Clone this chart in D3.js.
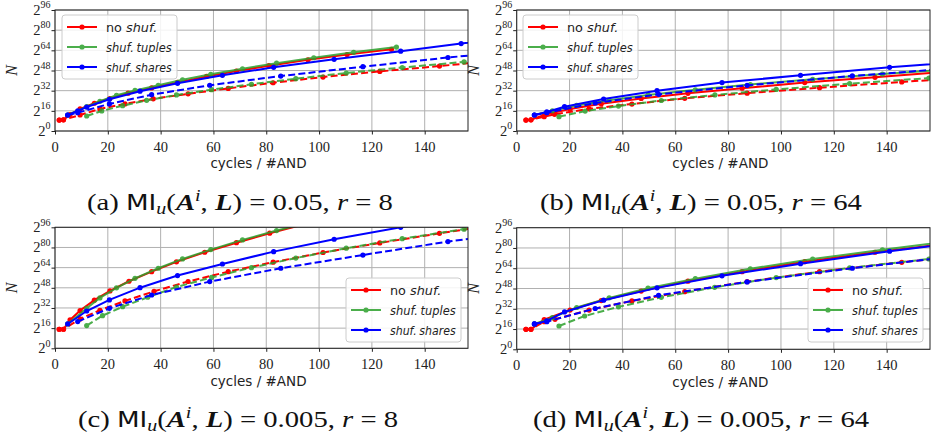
<!DOCTYPE html>
<html><head><meta charset="utf-8">
<script src="https://cdn.jsdelivr.net/npm/d3@7"></script>
<style>body{margin:0;background:#fff} svg{display:block}</style>
</head><body>
<svg id="chart" width="931" height="438"></svg>
<script>
// ---------- DATA (x = cycles / #AND, y = log2 N) ----------
const xTicks = [0, 20, 40, 60, 80, 100, 120, 140];
const yTickExps = [0, 16, 32, 48, 64, 80, 96];
const seriesNames = ["no shuf.", "shuf. tuples", "shuf. shares"];
const captionLetters = ["a", "b", "c", "d"];
const captionMI = ["0.05", "0.05", "0.005", "0.005"];
const captionR = ["8", "64", "8", "64"];

// panel (a)
const a_noShuf   = [[1.6,8.7],[3.2,8.9],[5.7,13],[9.5,17.5],[14.9,22],[20.8,25.8],[27.7,30],[36.6,34.2],[46.4,38.5],[57.4,43.3],[68.7,47.5],[81,51.8],[95.8,56.5],[110.6,60.6],[127.4,64.8]];
const a_noShuf_d = [[1.6,8.7],[3.2,8.9],[9.5,12.7],[17,17.5],[26.5,21.5],[37.2,25.5],[50.4,29.5],[65.6,33.8],[82.6,38.3],[101.5,42.8],[123,47.3],[145.6,51.5],[170,56.5]];
const a_tuples   = [[4.8,12.7],[12,19.3],[17,23.6],[23.3,28.3],[30.3,32.2],[39.1,36.3],[48.3,40.6],[59,45],[71,49.4],[83.9,53.8],[98,58.1],[113.1,62.4],[129.3,66.6]];
const a_tuples_d = [[12,11.9],[17.7,15.9],[25.6,20.1],[34.7,24.3],[46,28.6],[59.3,32.8],[74.4,37.1],[91.2,41.5],[110.3,46],[131.5,50.4],[154.9,54.8],[175,58.5]];
const a_shares   = [[4.8,12.7],[8.6,15.9],[12,19],[20.6,25.2],[32.2,31.6],[46.4,37.8],[63.4,44.2],[82.8,50.5],[105.7,56.9],[130.9,63.3],[153.8,69.4],[175,74.5]];
const a_shares_d = [[4.8,12.7],[8.6,14.5],[20.6,21.5],[36.6,28.8],[58.6,36.3],[85.5,43.6],[116.6,51],[148.8,58.3],[175,63.5]];

// panel (b)
const b_noShuf   = [[3.5,8.7],[5.4,8.9],[10.4,12.8],[20.2,17.5],[32,21.6],[47.1,25.8],[64.8,29.9],[85.3,34],[109,38.4],[135.6,42.6],[165,47.5]];
const b_noShuf_d = [[3.5,8.7],[5.4,8.9],[10.4,11.4],[14.3,13.2],[27.4,17.6],[43.6,21.4],[63.6,25.9],[87.2,30],[114.6,34.4],[145.7,38.9],[175,43]];
const b_tuples   = [[6.7,12.7],[13.5,16],[22.7,20.3],[35,24.4],[49.7,28.6],[67.6,32.7],[88.4,36.9],[112,41],[138.4,45.2],[165,49]];
const b_tuples_d = [[16,11.4],[25.9,15.8],[38.5,19.8],[54.7,24.2],[75,28.6],[98.2,33],[126,37.6],[156,42],[175,44.6]];
const b_shares   = [[6.7,12.7],[11.4,15.1],[18.1,19.3],[32.9,25.4],[53.1,32],[77.7,38.4],[107.4,44.2],[141.1,50.5],[175,56]];
const b_shares_d = [[6.7,12.7],[11.4,14.5],[29.7,22.2],[53.7,29.1],[87.2,36.2],[127,43.7],[170,50.5]];

// panel (c)
const c_noShuf   = [[1.6,15.1],[3.2,15.1],[5.7,22.5],[9.5,30],[14.9,38.2],[20.8,45.5],[28,53.2],[36.6,60.8],[46,68.6],[56.7,76.2],[68.7,83.8],[81.3,91.3],[95.5,99]];
const c_noShuf_d = [[1.6,15.1],[3.2,15.1],[9.5,23.3],[17,30.2],[26.5,37.6],[37.5,45.2],[50.4,53],[65.6,60.8],[82.6,68.3],[101.5,76],[123,83.6],[145.6,91.2],[170,99]];
const c_tuples   = [[4.8,19.3],[12,31.7],[17,40],[23.3,48],[30.3,55.5],[39.1,63.5],[48.3,70.9],[59,78.3],[71,86],[83.9,93.4],[98,100.5]];
const c_tuples_d = [[12,18],[18,25.9],[25.6,33],[35.1,40.5],[46,48.6],[59.3,56.2],[74.4,64],[91.2,71.6],[110.3,79.4],[131.5,87],[154.9,94.5],[175,100]];
const c_shares   = [[4.8,19.3],[12,29.6],[20.6,38.4],[32.2,48.1],[46.4,57.7],[63.4,66.9],[82.8,76.7],[105.7,86.5],[130.9,96],[153.8,104]];
const c_shares_d = [[8.6,21.2],[20.6,31.7],[36.6,42.3],[58.6,52.9],[85.5,63.5],[116.6,74],[148.8,84.7],[175,91.5]];

// panel (d)
const d_noShuf   = [[3.5,15.8],[5.4,15.8],[10.4,23.5],[20.2,31],[32,38.5],[47.1,46],[64.8,53.8],[85.3,61.3],[109,69.2],[135.6,76.6],[165,84]];
const d_noShuf_d = [[3.5,15.8],[5.4,15.8],[10.4,21.8],[14.5,23.7],[27.4,31],[43.6,38.2],[63.6,45.5],[87.2,53.4],[114.6,61.3],[145.7,68.7],[175,75]];
const d_tuples   = [[6.7,20],[13.5,25],[22.7,33],[35,40.6],[49.7,48.3],[67.6,55.8],[88.4,63.6],[112,71.2],[138.4,78.6],[165,85.5]];
const d_tuples_d = [[16,18.4],[25.7,26.3],[38.5,33.5],[54.7,41],[74.9,48.9],[98.2,56.6],[126,64.3],[156,71.3],[175,75.5]];
const d_shares   = [[6.7,20],[11.4,22.4],[18.1,29.5],[32.9,38.8],[53.1,48.5],[77.7,58],[107.4,67.6],[141.1,77.4],[175,86]];
const d_shares_d = [[6.7,20],[11.4,21.8],[29.7,32.2],[53.7,42.6],[87.2,53.2],[127,64],[170,74.5]];

// ---------- LAYOUT / STYLE ----------
const colors = ["#ff0000", "#2ca02c", "#0000ff"];
const opac = [1, 0.85, 1];
const panels = [
  {box:{l:55,   r:468, t:10,    b:131},   leg:{x:62,  y:15},  series:[[a_noShuf,a_noShuf_d],[a_tuples,a_tuples_d],[a_shares,a_shares_d]], cap:{x:240, y:210}, xl:{y:151.5}, axl:{y:168}},
  {box:{l:516.7,r:930, t:10,    b:131},   leg:{x:523, y:15},  series:[[b_noShuf,b_noShuf_d],[b_tuples,b_tuples_d],[b_shares,b_shares_d]], cap:{x:701, y:210}, xl:{y:151.5}, axl:{y:168}},
  {box:{l:55,   r:468, t:227.3, b:348.3}, leg:{x:346, y:278}, series:[[c_noShuf,c_noShuf_d],[c_tuples,c_tuples_d],[c_shares,c_shares_d]], cap:{x:238, y:427}, xl:{y:368.5}, axl:{y:385.5}},
  {box:{l:516.7,r:930, t:227.7, b:349.3}, leg:{x:808, y:278}, series:[[d_noShuf,d_noShuf_d],[d_tuples,d_tuples_d],[d_shares,d_shares_d]], cap:{x:701, y:427}, xl:{y:369.5}, axl:{y:386.5}}
];

const svg = d3.select("#chart");
const serif = "'Liberation Serif','DejaVu Serif',serif";
const sans = "'DejaVu Sans','Noto Sans',sans-serif";
const captions = [];

panels.forEach((p, pi) => {
  const B = p.box;
  const x = d3.scaleLinear().domain([0, 156.4]).range([B.l, B.r]);
  const y = d3.scaleLinear().domain([0, 96]).range([B.b, B.t]);
  const g = svg.append("g");

  // grid
  g.selectAll(".gx").data(xTicks).enter().append("line")
    .attr("x1", d => x(d)).attr("x2", d => x(d)).attr("y1", B.t).attr("y2", B.b)
    .attr("stroke", "#b0b0b0").attr("stroke-width", 1);
  g.selectAll(".gy").data(yTickExps).enter().append("line")
    .attr("x1", B.l).attr("x2", B.r).attr("y1", d => y(d)).attr("y2", d => y(d))
    .attr("stroke", "#b0b0b0").attr("stroke-width", 1);

  // axes (ticks)
  const xa = g.append("g").attr("transform", `translate(0,${B.b})`)
    .call(d3.axisBottom(x).tickValues(xTicks).tickSize(3.5).tickFormat(""));
  const ya = g.append("g").attr("transform", `translate(${B.l},0)`)
    .call(d3.axisLeft(y).tickValues(yTickExps).tickSize(3.5).tickFormat(""));
  [xa, ya].forEach(a => { a.select(".domain").remove(); a.selectAll("line").attr("stroke", "#222").attr("stroke-width", 1); });

  // x tick labels
  g.selectAll(".xl").data(xTicks).enter().append("text")
    .attr("x", d => x(d)).attr("y", p.xl.y).attr("text-anchor", "middle")
    .attr("font-family", serif).attr("font-size", 14.5).attr("fill", "#222")
    .text(d => d);
  // y tick labels 2^k
  yTickExps.forEach(k => {
    const t = g.append("text").attr("x", B.l - 4.5).attr("y", y(k) + 4.8)
      .attr("text-anchor", "end").attr("font-family", serif).attr("fill", "#222");
    t.append("tspan").attr("font-size", 14.5).text("2");
    t.append("tspan").attr("font-size", 10).attr("dy", -6.5).text(k);
  });

  // axis titles
  g.append("text").attr("x", (B.l + B.r) / 2 - 3).attr("y", p.axl.y).attr("text-anchor", "middle")
    .attr("font-family", sans).attr("font-size", 13.5).attr("fill", "#222").text("cycles / #AND");
  g.append("text").attr("transform", `translate(${B.l - 38},${(B.t + B.b) / 2}) rotate(-90)`)
    .attr("text-anchor", "middle").attr("font-family", serif).attr("font-style", "italic")
    .attr("font-size", 16).attr("fill", "#222").text("N");

  // clip
  const cid = "clip" + pi;
  svg.append("clipPath").attr("id", cid).append("rect")
    .attr("x", B.l).attr("y", B.t).attr("width", B.r - B.l).attr("height", B.b - B.t);
  const plot = g.append("g").attr("clip-path", `url(#${cid})`);
  const line = d3.line().x(d => x(d[0])).y(d => y(d[1]));

  p.series.forEach((pair, si) => {
    pair.forEach((data, di) => {
      const sg = plot.append("g").attr("opacity", opac[si]);
      sg.append("path").datum(data).attr("d", line).attr("fill", "none")
        .attr("stroke", colors[si]).attr("stroke-width", 2)
        .attr("stroke-dasharray", di === 1 ? "7,3.2" : null);
      sg.selectAll("circle").data(data).enter().append("circle")
        .attr("cx", d => x(d[0])).attr("cy", d => y(d[1])).attr("r", 2.6)
        .attr("fill", colors[si]);
    });
  });

  // frame
  g.append("rect").attr("x", B.l).attr("y", B.t).attr("width", B.r - B.l).attr("height", B.b - B.t)
    .attr("fill", "none").attr("stroke", "#222").attr("stroke-width", 1);

  // legend
  const L = g.append("g").attr("transform", `translate(${p.leg.x},${p.leg.y})`);
  L.append("rect").attr("width", 115).attr("height", 64).attr("rx", 3)
    .attr("fill", "#fff").attr("fill-opacity", 0.85).attr("stroke", "#cccccc");
  seriesNames.forEach((nm, i) => {
    const yy = 12 + i * 20;
    const lg = L.append("g").attr("opacity", opac[i]);
    lg.append("line").attr("x1", 5).attr("x2", 35).attr("y1", yy).attr("y2", yy)
      .attr("stroke", colors[i]).attr("stroke-width", 2);
    lg.append("circle").attr("cx", 20).attr("cy", yy).attr("r", 2.6).attr("fill", colors[i]);
    const t = L.append("text").attr("x", 44).attr("y", yy + 4.6)
      .attr("font-family", sans).attr("font-size", 12.8).attr("fill", "#222");
    if (i === 0) {
      t.append("tspan").text("no ");
      t.append("tspan").attr("font-style", "italic").text("shuf.");
    } else {
      const parts = nm.split(" ");
      t.append("tspan").attr("font-style", "italic").text(parts[0]);
      t.append("tspan").attr("font-style", "italic").attr("dx", 3).text(parts[1]);
    }
    // keep the entry inside the legend frame
    const w = t.node().getBBox().width;
    if (w > 66) t.attr("transform", `translate(44,0) scale(${66 / w},1) translate(-44,0)`);
  });

  // caption
  const cg = svg.append("g");
  const c = cg.append("text").attr("x", 0).attr("y", 0).attr("text-anchor", "middle")
    .attr("font-family", serif).attr("font-size", 23).attr("fill", "#111");
  c.append("tspan").text(`(${captionLetters[pi]}) `);
  c.append("tspan").attr("font-family", sans).attr("font-size", 21).text("MI");
  c.append("tspan").attr("font-style", "italic").attr("font-size", 16).attr("dy", 4).text("u");
  c.append("tspan").attr("dy", -4).text("(");
  c.append("tspan").attr("font-style", "italic").attr("font-weight", "bold").text("A");
  c.append("tspan").attr("font-style", "italic").attr("font-size", 16).attr("dy", -9).text("i");
  c.append("tspan").attr("dy", 9).text(", ");
  c.append("tspan").attr("font-style", "italic").attr("font-weight", "bold").text("L");
  c.append("tspan").text(`) = ${captionMI[pi]}, `);
  c.append("tspan").attr("font-style", "italic").text("r");
  c.append("tspan").text(` = ${captionR[pi]}`);
  captions.push({g: cg, t: c, p});
});

// the reference captions are set wider than this font: stretch horizontally to the same width
const refW = captions[0].t.node().getBBox().width;
const sx = 306 / refW;
captions.forEach(({g, p}) => g.attr("transform", `translate(${p.cap.x},${p.cap.y}) scale(${sx},1)`));
</script>
</body></html>
